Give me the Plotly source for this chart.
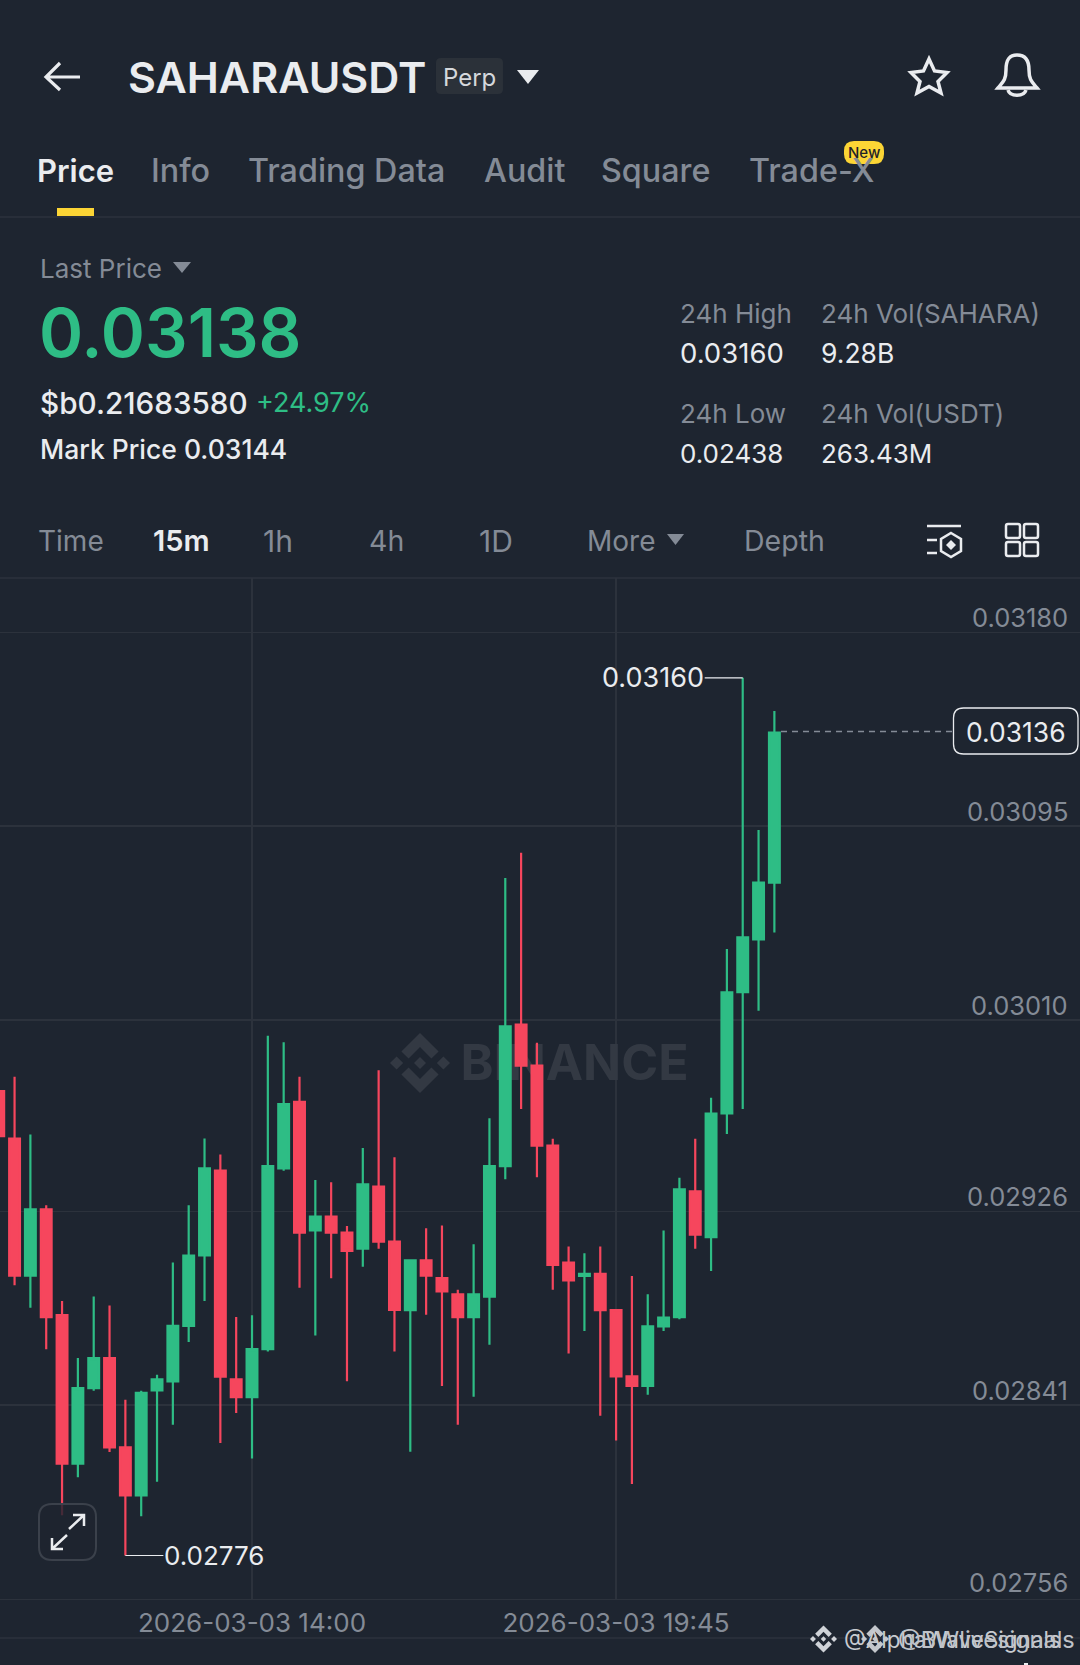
import re
import plotly.graph_objects as go

W, H = 1080, 1665
BG = "#1E2530"
GRID = "#2C323C"
GREEN = "#2EBD85"
RED = "#F6465D"
WHITE = "#EAECEF"
GREY = "#848B96"
FONT = "Inter"

times = [
    "2026-03-03 10:00", "2026-03-03 10:15", "2026-03-03 10:30", "2026-03-03 10:45", "2026-03-03 11:00",
    "2026-03-03 11:15", "2026-03-03 11:30", "2026-03-03 11:45", "2026-03-03 12:00", "2026-03-03 12:15",
    "2026-03-03 12:30", "2026-03-03 12:45", "2026-03-03 13:00", "2026-03-03 13:15", "2026-03-03 13:30",
    "2026-03-03 13:45", "2026-03-03 14:00", "2026-03-03 14:15", "2026-03-03 14:30", "2026-03-03 14:45",
    "2026-03-03 15:00", "2026-03-03 15:15", "2026-03-03 15:30", "2026-03-03 15:45", "2026-03-03 16:00",
    "2026-03-03 16:15", "2026-03-03 16:30", "2026-03-03 16:45", "2026-03-03 17:00", "2026-03-03 17:15",
    "2026-03-03 17:30", "2026-03-03 17:45", "2026-03-03 18:00", "2026-03-03 18:15", "2026-03-03 18:30",
    "2026-03-03 18:45", "2026-03-03 19:00", "2026-03-03 19:15", "2026-03-03 19:30", "2026-03-03 19:45",
    "2026-03-03 20:00", "2026-03-03 20:15", "2026-03-03 20:30", "2026-03-03 20:45", "2026-03-03 21:00",
    "2026-03-03 21:15", "2026-03-03 21:30", "2026-03-03 21:45", "2026-03-03 22:00", "2026-03-03 22:15",
]
opens = [
    0.029787, 0.029579, 0.028978, 0.029268, 0.028804, 0.028153, 0.028484, 0.028616, 0.028224, 0.028014,
    0.028474, 0.028514, 0.028757, 0.029066, 0.029438, 0.028523, 0.028445, 0.028655, 0.029448, 0.029740,
    0.029176, 0.029237, 0.029166, 0.029096, 0.029368, 0.029127, 0.028826, 0.029045, 0.028967, 0.028896,
    0.028796, 0.028886, 0.029458, 0.030079, 0.029899, 0.029548, 0.029035, 0.028976, 0.028986, 0.028826,
    0.028536, 0.028494, 0.028755, 0.028796, 0.029347, 0.029147, 0.029689, 0.030221, 0.030453, 0.030702,
]
highs = [
    0.030433, 0.029850, 0.029597, 0.029286, 0.028866, 0.028616, 0.028886, 0.028847, 0.028433, 0.028473,
    0.028543, 0.029035, 0.029286, 0.029579, 0.029509, 0.028796, 0.028804, 0.030030, 0.030001, 0.029850,
    0.029397, 0.029387, 0.029195, 0.029538, 0.029879, 0.029497, 0.029045, 0.029186, 0.029198, 0.028916,
    0.029115, 0.029668, 0.030722, 0.030833, 0.029999, 0.029578, 0.029106, 0.029076, 0.029106, 0.028826,
    0.028976, 0.028896, 0.029176, 0.029407, 0.029578, 0.029758, 0.030410, 0.031600, 0.030933, 0.031455,
]
lows = [
    0.029366, 0.028935, 0.028837, 0.028655, 0.027926, 0.028093, 0.028473, 0.028204, 0.027750, 0.027922,
    0.028073, 0.028324, 0.028686, 0.028866, 0.028243, 0.028375, 0.028175, 0.028645, 0.029438, 0.028925,
    0.028715, 0.028966, 0.028514, 0.029017, 0.029096, 0.028645, 0.028205, 0.028806, 0.028494, 0.028324,
    0.028446, 0.028675, 0.029400, 0.029709, 0.029409, 0.028916, 0.028636, 0.028735, 0.028363, 0.028254,
    0.028064, 0.028455, 0.028735, 0.028786, 0.029096, 0.028998, 0.029599, 0.029709, 0.030140, 0.030483,
]
closes = [
    0.029589, 0.028978, 0.029268, 0.028796, 0.028153, 0.028484, 0.028616, 0.028224, 0.028014, 0.028463,
    0.028523, 0.028757, 0.029066, 0.029448, 0.028535, 0.028445, 0.028655, 0.029458, 0.029730, 0.029166,
    0.029237, 0.029166, 0.029086, 0.029378, 0.029127, 0.028827, 0.029045, 0.028978, 0.028908, 0.028796,
    0.028896, 0.029458, 0.030071, 0.029899, 0.029548, 0.029025, 0.028957, 0.028986, 0.028826, 0.028536,
    0.028494, 0.028755, 0.028794, 0.029356, 0.029157, 0.029689, 0.030220, 0.030462, 0.030702, 0.031360,
]
price_ticks = [0.03180, 0.03095, 0.03010, 0.02926, 0.02841, 0.02756]
price_labels = ["0.03180", "0.03095", "0.03010", "0.02926", "0.02841", "0.02756"]
time_ticks = ["2026-03-03 14:00", "2026-03-03 19:45"]
time_labels = ["2026-03-03 14:00", "2026-03-03 19:45"]
high_label, low_label, last_label = "0.03160", "0.02776", "0.03136"
high_time, low_time, last_time = "2026-03-03 21:45", "2026-03-03 12:00", "2026-03-03 22:15"
high_price, low_price = 0.0316, 0.02775


def X(x):
    return x / W


def Y(y):
    return 1 - y / H


def path(s):
    """Pixel path string -> paper path string."""
    toks = re.findall(r"[A-Za-z]|-?\d+\.?\d*", s)
    out, i = [], 0
    for t in toks:
        if t.isalpha():
            out.append(t)
        else:
            out.append(f"{X(float(t)):.5f}" if i % 2 == 0 else f"{Y(float(t)):.5f}")
            i += 1
    return " ".join(out)


shapes, annos = [], []


def T(x, y, text, size, color=GREY, weight=400, anchor="left"):
    annos.append(dict(xref="paper", yref="paper", x=X(x), y=Y(y), text=text, showarrow=False,
                      xanchor=anchor, yanchor="middle", borderpad=0,
                      font=dict(family=FONT, size=size, color=color, weight=weight)))


def S(p, line=WHITE, width=2.5, fill=None, layer="above"):
    shapes.append(dict(type="path", xref="paper", yref="paper", path=path(p), layer=layer,
                       fillcolor=fill if fill else "rgba(0,0,0,0)",
                       line=dict(color=line, width=width)))


def F(p, fill, layer="above"):
    shapes.append(dict(type="path", xref="paper", yref="paper", path=path(p), layer=layer,
                       fillcolor=fill, line=dict(width=0)))


def rrect(x0, y0, x1, y1, r):
    return (f"M {x0+r} {y0} L {x1-r} {y0} Q {x1} {y0} {x1} {y0+r} L {x1} {y1-r} Q {x1} {y1} {x1-r} {y1} "
            f"L {x0+r} {y1} Q {x0} {y1} {x0} {y1-r} L {x0} {y0+r} Q {x0} {y0} {x0+r} {y0} Z")


def hline(y, color=GRID, width=1.5):
    S(f"M 0 {y} L {W} {y}", line=color, width=width)


def logo(cx, cy, r, color, layer="above"):
    def poly(pts):
        return "M " + " L ".join(f"{cx+a*r:.2f} {cy+b*r:.2f}" for a, b in pts) + " Z"
    F(poly([(0, -.2), (.2, 0), (0, .2), (-.2, 0)]), color, layer)
    F(poly([(-1, 0), (-.78, -.22), (-.56, 0), (-.78, .22)]), color, layer)
    F(poly([(1, 0), (.78, -.22), (.56, 0), (.78, .22)]), color, layer)
    F(poly([(0, -1), (.62, -.38), (.38, -.15), (0, -.53), (-.38, -.15), (-.62, -.38)]), color, layer)
    F(poly([(0, 1), (.62, .38), (.38, .15), (0, .53), (-.38, .15), (-.62, .38)]), color, layer)


# ---- header ----
S("M 46 77 L 80 77 M 60 63 L 46 77 L 60 90", width=3.2)
T(127, 77, "SAHARAUSDT", 43, WHITE, 600)
F(rrect(436, 58, 503, 94, 5), "#2B3139")
T(469.5, 77, "Perp", 24, "#D5D8DC", 400, "center")
F("M 517 70 L 539 70 L 528 84 Z", WHITE)
S("M 929 59 L 934.5 71 L 947 72.5 L 938 81.5 L 941 93 L 929 86.5 L 917 93 L 920 81.5 L 911 72.5 L 923.5 71 Z",
  width=3.5)
S("M 998 88 C 1003 82 1006 80 1006 70 C 1006 60 1009 55 1017 55 C 1025 55 1029 60 1029 70 "
  "C 1029 80 1032 82 1037 88 Z", width=3.5)
S("M 1008 90 C 1010 97 1024 97 1026 90", width=3.5)

# ---- tabs ----
T(36, 170, "Price", 31, WHITE, 600)
for x, label in [(150, "Info"), (246.5, "Trading Data"), (482.5, "Audit"), (600, "Square"), (748, "Trade-X")]:
    T(x, 170, label, 32.3, GREY, 500)
F(rrect(844, 141, 884, 164, 10), "#FCD535")
T(864, 152.5, "New", 15, "#1E2329", 500, "center")
F("M 57 208 L 94 208 L 94 216 L 57 216 Z", "#FCD535")
hline(217)

# ---- price block ----
T(39, 268, "Last Price", 26, GREY)
F("M 173 262 L 191 262 L 182 273 Z", GREY)
T(38, 332, "0.03138", 67, GREEN, 600)
T(39, 402.5, "$b0.21683580", 29.7, WHITE, 500)
T(255, 402.5, "+24.97%", 27, GREEN)
T(39, 449, "Mark Price 0.03144", 26.5, WHITE, 500)
T(679, 313, "24h High", 26)
T(820, 313, "24h Vol(SAHARA)", 26)
T(679, 353, "0.03160", 27.5, WHITE)
T(820, 353, "9.28B", 26.5, WHITE)
T(679, 413, "24h Low", 26)
T(820, 413, "24h Vol(USDT)", 26)
T(679, 453, "0.02438", 26, WHITE)
T(820, 453, "263.43M", 26, WHITE)

# ---- interval row ----
T(37, 541, "Time", 28)
T(152, 541, "15m", 29, WHITE, 600)
T(262, 541, "1h", 30)
T(367.5, 541, "4h", 28.5)
T(478, 541, "1D", 30)
T(586, 541, "More", 28)
F("M 667 534 L 684 534 L 675.5 545 Z", GREY)
T(742.5, 541, "Depth", 28.5)
S("M 927 526 L 961 526 M 927 540 L 937 540 M 927 553 L 937 553", width=2.5)
S("M 951 533 L 961 539 L 961 551 L 951 557 L 941 551 L 941 539 Z", width=2.5)
F("M 951 540 L 956 545 L 951 550 L 946 545 Z", WHITE)
for x0 in (1006, 1024):
    for y0 in (524, 542):
        S(rrect(x0, y0, x0 + 14, y0 + 14, 2), width=2.5)
hline(578)

# ---- chart furniture ----
logo(420, 1063, 30, "#333943", layer="below")
hline(1638)
S(f"M 781 731.5 L 953 731.5", line=GREY, width=1.5)
shapes[-1]["line"]["dash"] = "6px,5px"
S(rrect(953.5, 708, 1078, 754, 10), line=WHITE, width=1.3, fill=BG)
T(1067, 731.5, last_label, 26.5, WHITE, 400, "right")

S(rrect(39, 1504, 96, 1560, 13), line="#3B414B", width=2, fill="rgba(30,37,48,0.82)")
S("M 69 1529 L 84 1515 M 73 1515 L 84 1515 L 84 1526 M 67 1535 L 52 1549 M 52 1538 L 52 1549 L 63 1549",
  width=2.5)

# ---- footer watermark ----
logo(823.5, 1639, 13.5, "#D0D3D8")
logo(875, 1639, 14, "#C4C7CC")
T(843, 1639, "@AlphaWaveSignals", 22.5, "#C8CBD0")
T(897, 1639, "@BWlivesignals", 23.5, "#BFC2C8")
F("M 1024 1663 L 1028 1663 L 1028 1665 L 1024 1665 Z", WHITE)

# ---- price scale labels, set just above their gridlines ----
for v, label in zip(price_ticks, price_labels):
    annos.append(dict(xref="paper", yref="y2", x=X(1068.5), y=v, text=label, showarrow=False, xanchor="right",
                      yanchor="middle", yshift=16.5 if v == price_ticks[-1] else 14.5, borderpad=0,
                      font=dict(family=FONT, size=25.5, color=GREY)))

# ---- extreme labels ----
annos.append(dict(xref="x2", yref="y2", x=high_time, y=high_price, text=high_label, axref="pixel", ayref="pixel",
                  ax=-38, ay=0, showarrow=True, arrowhead=0, arrowwidth=1.2, arrowcolor=WHITE,
                  xanchor="right", yanchor="middle", borderpad=0, standoff=0,
                  font=dict(family=FONT, size=27, color=WHITE)))
annos.append(dict(xref="x2", yref="y2", x=low_time, y=low_price, text=low_label, axref="pixel", ayref="pixel",
                  ax=38, ay=0, showarrow=True, arrowhead=0, arrowwidth=1.2, arrowcolor=WHITE,
                  xanchor="left", yanchor="middle", borderpad=0, standoff=0,
                  font=dict(family=FONT, size=26, color=WHITE)))

fig = go.Figure()
# watermark on the base axes so that the overlaid candles draw above it
fig.add_trace(go.Scatter(x=[0.532], y=[0.52], mode="text", text=["<b>BINANCE</b>"], hoverinfo="skip",
                         textposition="middle center", cliponaxis=False,
                         textfont=dict(family=FONT, size=50, color="#333943"), xaxis="x", yaxis="y"))
fig.add_trace(go.Candlestick(
    x=times, open=opens, high=highs, low=lows, close=closes, xaxis="x2", yaxis="y2", whiskerwidth=0,
    increasing=dict(line=dict(color=GREEN, width=2.2), fillcolor=GREEN),
    decreasing=dict(line=dict(color=RED, width=2.2), fillcolor=RED), hoverinfo="skip"))

dom_y = [1 - 1598.8 / H, 1 - 578 / H]
fig.update_layout(
    width=W, height=H, autosize=False, margin=dict(l=0, r=0, t=0, b=0, pad=0),
    paper_bgcolor=BG, plot_bgcolor=BG, showlegend=False, hovermode=False,
    boxgap=0.32, boxgroupgap=0, shapes=shapes, annotations=annos,
    xaxis=dict(domain=[0, 1], range=[0, 1], visible=False, fixedrange=True),
    yaxis=dict(domain=dom_y, range=[0, 1], visible=False, fixedrange=True),
    xaxis2=dict(overlaying="x", anchor="y2", domain=[0, 1], type="date",
                range=["2026-03-03 10:01:12", "2026-03-04 03:04:36"],
                rangeslider=dict(visible=False), tickmode="array", tickvals=time_ticks, ticktext=time_labels,
                showgrid=True, gridcolor=GRID, gridwidth=1.5, zeroline=False, ticks="", ticklabelstandoff=0,
                showline=True, linecolor=GRID, linewidth=1.5,
                tickfont=dict(family=FONT, size=26, color=GREY), tickangle=0),
    yaxis2=dict(overlaying="y", anchor="x2", side="right", domain=dom_y,
                range=[0.02756, 0.032038], tickmode="array", tickvals=price_ticks, showticklabels=False,
                showgrid=True, gridcolor=GRID, gridwidth=1.5, zeroline=False, ticks=""),
)
fig.write_html("out.html", config=dict(displayModeBar=False, staticPlot=True),
               post_script="document.body.style.margin='0';document.body.style.background='%s';" % BG)
